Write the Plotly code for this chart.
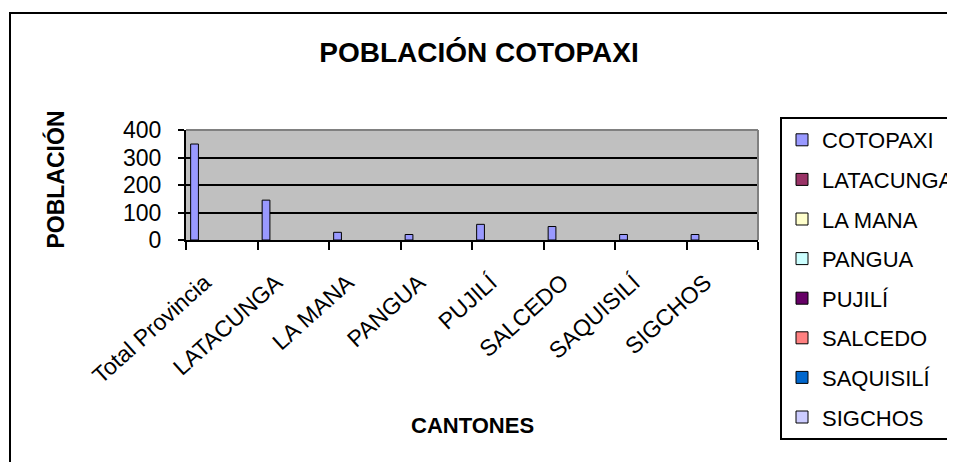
import plotly.graph_objects as go

# Datos: población por cantón (miles de habitantes)
cantones = ['Total Provincia', 'LATACUNGA', 'LA MANA', 'PANGUA', 'PUJILÍ',
            'SALCEDO', 'SAQUISILÍ', 'SIGCHOS']
poblacion = [349, 145, 28, 20, 57, 49, 20, 20]

series = ['COTOPAXI', 'LATACUNGA', 'LA MANA', 'PANGUA', 'PUJILÍ',
          'SALCEDO', 'SAQUISILÍ', 'SIGCHOS']
colores = ['#9999FF', '#993366', '#FFFFCC', '#CCFFFF', '#660066',
           '#FF8080', '#0066CC', '#CCCCFF']

fuente = 'Arial, Liberation Sans, sans-serif'

fig = go.Figure()
for i, (nombre, color) in enumerate(zip(series, colores)):
    valores = poblacion if i == 0 else [None] * len(cantones)
    fig.add_trace(go.Bar(
        x=cantones,
        y=valores,
        name=nombre,
        legendgroup=nombre,
        marker=dict(color=color, line=dict(color='black', width=1)),
    ))

# la página añade 8 px de margen (body), por eso las posiciones van desplazadas
fig.update_layout(
    width=955, height=462,
    margin=dict(l=178, r=205, t=122, b=230),
    paper_bgcolor='white',
    plot_bgcolor='#C0C0C0',
    barmode='group',
    bargap=0.13,
    bargroupgap=0,
    font=dict(family=fuente, color='black'),
    title=dict(text='<b>POBLACIÓN COTOPAXI</b>', font=dict(size=28),
               x=471 / 955, xanchor='center', xref='container',
               y=1 - 44 / 462, yanchor='middle', yref='container'),
    legend=dict(
        xref='container', yref='container',
        x=772 / 955, y=1 - 109 / 462, xanchor='left', yanchor='top',
        bordercolor='black', borderwidth=2, bgcolor='white',
        font=dict(size=22), tracegroupgap=8, traceorder='grouped',
        maxheight=1000,
    ),
    showlegend=True,
)

fig.update_yaxes(
    range=[0, 400], dtick=100, tickfont=dict(size=23),
    showgrid=True, gridcolor='black', gridwidth=2,
    showline=True, linecolor='black', linewidth=2,
    ticks='outside', ticklen=6, tickcolor='black', tickwidth=2,
    ticklabelstandoff=12, zeroline=False,
)
fig.update_xaxes(
    tickfont=dict(size=23), tickangle=-42,
    showline=True, linecolor='black', linewidth=2,
    ticks='outside', ticklen=8, tickcolor='black', tickwidth=2,
    tickson='boundaries', ticklabelstandoff=18, ticklabelshift=-17,
)

# borde gris superior y derecho del área de trazado
fig.add_shape(type='line', xref='x domain', yref='y domain',
              x0=0, x1=1, y0=1, y1=1, line=dict(color='#808080', width=2))
fig.add_shape(type='line', xref='x domain', yref='y domain',
              x0=1, x1=1, y0=0, y1=1, line=dict(color='#808080', width=2))

# marco exterior del gráfico
fig.add_shape(type='rect', xref='paper', yref='paper',
              x0=-176 / 572, x1=790 / 572, y0=-250 / 110, y1=227 / 110,
              line=dict(color='black', width=2), layer='below')

# títulos de ejes
fig.add_annotation(text='<b>POBLACIÓN</b>', textangle=-90, showarrow=False,
                   xref='paper', yref='paper', x=-131 / 572, y=0.55,
                   xanchor='center', yanchor='middle', font=dict(size=23))
fig.add_annotation(text='<b>CANTONES</b>', showarrow=False,
                   xref='paper', yref='paper', x=0.5, y=-185 / 110,
                   xanchor='center', yanchor='middle', font=dict(size=22))

fig.write_html('out.html')
